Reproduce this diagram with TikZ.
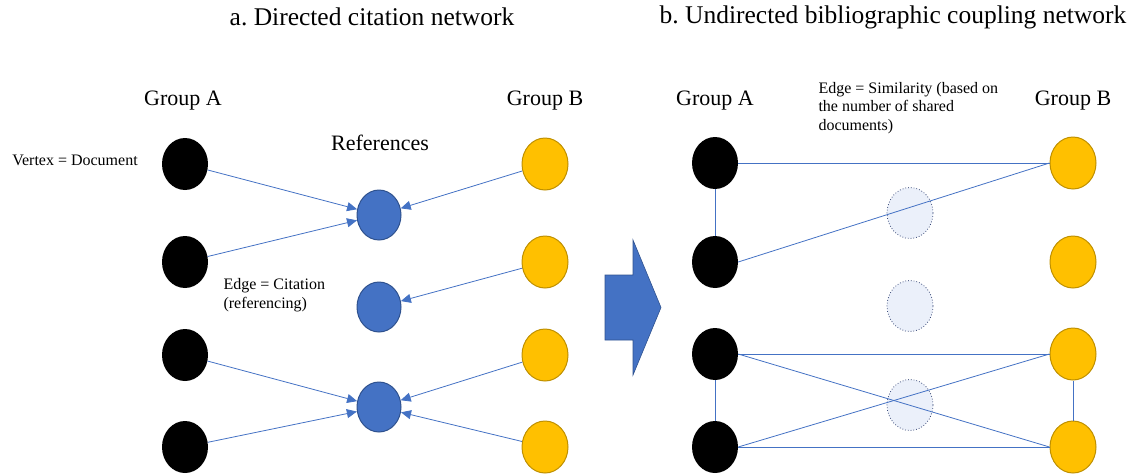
\documentclass[tikz,border=0pt]{standalone}
\usepackage{fontspec}
\setmainfont{Liberation Serif}
\usepackage{tikz}
\usetikzlibrary{arrows.meta,shapes.geometric}
\definecolor{EdgeBlue}{HTML}{4472C4}
\definecolor{RefBlue}{HTML}{4472C4}
\definecolor{RefBorder}{HTML}{2F528F}
\definecolor{GroupGold}{HTML}{FFC000}
\definecolor{GoldBorder}{HTML}{BF9000}
\definecolor{GhostFill}{HTML}{EBF0FA}
\definecolor{GhostLine}{HTML}{3A4A78}
\frenchspacing

\begin{document}
\begin{tikzpicture}[
  x=1pt,y=-1pt,
  doc/.style={ellipse,minimum width=46pt,minimum height=52pt,inner sep=0pt},
  docA/.style={doc,fill=black},
  docB/.style={doc,draw=GoldBorder,line width=1pt,fill=GroupGold},
  refnode/.style={ellipse,minimum width=44pt,minimum height=50pt,inner sep=0pt,draw=RefBorder,line width=1pt,fill=RefBlue},
  ghost/.style={ellipse,minimum width=46pt,minimum height=51pt,inner sep=0pt,draw=GhostLine,dotted,line width=0.8pt,fill=GhostFill},
  link/.style={EdgeBlue,line width=0.8pt},
  cite/.style={link,-{Triangle[length=10pt,width=9pt]}},
  title/.style={font=\fontsize{25.5}{30}\selectfont},
  heading/.style={font=\fontsize{22}{26}\selectfont},
  note/.style={font=\fontsize{16}{18.5}\selectfont,align=left}
]
  \useasboundingbox (0,0) rectangle (1131,474);

  % a. citation network
  \node[title] (titleA) at (372,17) {a. Directed citation network};
  \node[heading] (grpA) at (183,101) {Group A};
  \node[heading] (grpB) at (545,101) {Group B};
  \node[heading] (refs) at (380,143) {References};
  \node[note] (vertex) at (75,160) {Vertex = Document};
  \node[note,anchor=west] (edgecite) at (220,295) {Edge = Citation\\(referencing)};

  \node[docA] (a1) at (185,164) {};
  \node[docA] (a2) at (185,262) {};
  \node[docA] (a3) at (185,355) {};
  \node[docA] (a4) at (185,447) {};
  \node[docB] (b1) at (545,164) {};
  \node[docB] (b2) at (545,262) {};
  \node[docB] (b3) at (545,355) {};
  \node[docB] (b4) at (545,447) {};
  \node[refnode] (r1) at (379,215) {};
  \node[refnode] (r2) at (379,307) {};
  \node[refnode] (r3) at (379,407) {};

  \draw[cite] (a1) -- (r1);
  \draw[cite] (a2) -- (r1);
  \draw[cite] (b1) -- (r1);
  \draw[cite] (b2) -- (r2);
  \draw[cite] (a3) -- (r3);
  \draw[cite] (a4) -- (r3);
  \draw[cite] (b3) -- (r3);
  \draw[cite] (b4) -- (r3);

  % block arrow between the panels
  \draw[RefBorder,line width=0.6pt,fill=RefBlue]
    (605,275) -- (633,275) -- (633,240) -- (661,307.5) -- (633,375) -- (633,340) -- (605,340) -- cycle;

  % b. coupling network
  \node[title] (titleB) at (893,17) {b. Undirected bibliographic coupling network};
  \node[heading] (grpA2) at (715,101) {Group A};
  \node[heading] (grpB2) at (1073,101) {Group B};
  \node[note,anchor=west] (edgesim) at (815,108) {Edge = Similarity (based on\\the number of shared\\documents)};

  \node[ghost] (g1) at (910,213) {};
  \node[ghost] (g2) at (910,306) {};
  \node[ghost] (g3) at (910,405) {};

  \node[docA] (c1) at (715,163) {};
  \node[docA] (c2) at (715,262) {};
  \node[docA] (c3) at (715,354) {};
  \node[docA] (c4) at (715,447) {};
  \node[docB] (d1) at (1073,163) {};
  \node[docB] (d2) at (1073,262) {};
  \node[docB] (d3) at (1073,354) {};
  \node[docB] (d4) at (1073,447) {};

  \draw[link] (c1.east) -- (d1.west);
  \draw[link] (c2.east) -- (d1.west);
  \draw[link] (c1.south) -- (c2.north);
  \draw[link] (c3.east) -- (d3.west);
  \draw[link] (c3.east) -- (d4.west);
  \draw[link] (c4.east) -- (d3.west);
  \draw[link] (c4.east) -- (d4.west);
  \draw[link] (c3.south) -- (c4.north);
  \draw[link] (d3.south) -- (d4.north);
\end{tikzpicture}
\end{document}
